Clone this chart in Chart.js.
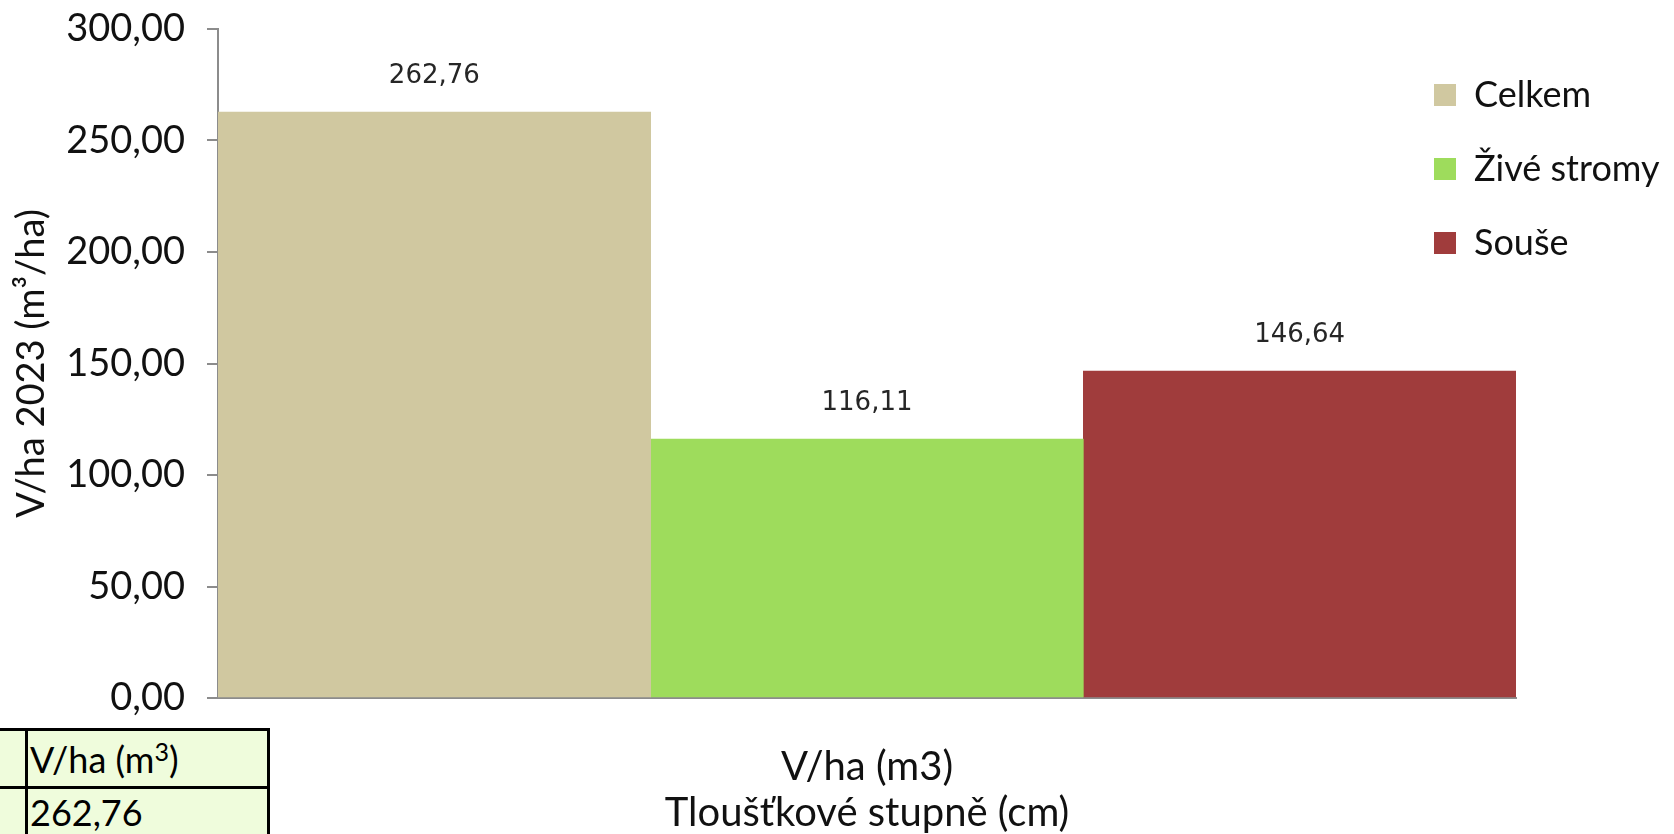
<!DOCTYPE html>
<html>
<head>
<meta charset="utf-8">
<script src="https://cdn.jsdelivr.net/npm/chart.js@4/dist/chart.umd.min.js"></script>
<style>
  html, body { margin: 0; padding: 0; background: #fff; overflow: hidden; }
  #wrap { position: relative; width: 1674px; height: 834px; }
  #vt {
    position: absolute; left: -40px; top: 728px;
    border-collapse: collapse; background: #effcdc;
    font-family: Lato, sans-serif; font-size: 36px; color: #000;
  }
  #vt td { border: 3px solid #000; padding: 0 0 0 2px; line-height: 1.1; }
  #vt tr.head td { height: 55px; }
  #vt tr.val td { height: 60px; vertical-align: top; padding-top: 4px; }
  #vt sup { font-size: 25px; vertical-align: 12px; }
</style>
</head>
<body>
<div id="wrap">
  <canvas id="volumeChart"></canvas>
  <table id="vt">
    <tr class="head"><td style="width:60px"></td><td style="width:237px">V/ha (m<sup>3</sup>)</td></tr>
    <tr class="val"><td></td><td id="vtValue"></td></tr>
  </table>
</div>
<script>
const categories = ['V/ha (m3)'];
const seriesNames = ['Celkem', 'Živé stromy', 'Souše'];
const celkem = [262.76];
const ziveStromy = [116.11];
const souse = [146.64];
const yTicks = [0, 50, 100, 150, 200, 250, 300];

const fmt = v => v.toFixed(2).replace('.', ',');

document.getElementById('vtValue').textContent = fmt(celkem[0]);

Chart.defaults.font.family = 'Lato, sans-serif';
Chart.defaults.color = '#111';

// value labels above each bar
const barValueLabels = {
  id: 'barValueLabels',
  afterDatasetsDraw(chart) {
    const ctx = chart.ctx;
    ctx.save();
    ctx.font = '26px "DejaVu Sans"';
    ctx.fillStyle = '#262626';
    ctx.textAlign = 'center';
    ctx.textBaseline = 'middle';
    chart.data.datasets.forEach((ds, i) => {
      chart.getDatasetMeta(i).data.forEach((bar, j) => {
        ctx.fillText(fmt(ds.data[j]), bar.x, bar.y - 36);
      });
    });
    ctx.restore();
  }
};

// legend sits inside the plot area, top right
const legendSpot = {
  id: 'legendSpot',
  afterLayout(chart) {
    const lg = chart.legend;
    const w = lg.width, h = lg.height;
    lg.left = 1396; lg.right = lg.left + w;
    lg.top = 39; lg.bottom = lg.top + h;
  }
};

const axisGrey = '#8c8c8c';

new Chart(document.getElementById('volumeChart'), {
  type: 'bar',
  data: {
    labels: categories,
    datasets: [
      { label: seriesNames[0], data: celkem, backgroundColor: '#d0c8a0' },
      { label: seriesNames[1], data: ziveStromy, backgroundColor: '#9edc5c' },
      { label: seriesNames[2], data: souse, backgroundColor: '#a03c3c' }
    ]
  },
  options: {
    responsive: true,
    maintainAspectRatio: false,
    animation: false,
    layout: { padding: { top: 29, right: 158, bottom: 0, left: 0 } },
    datasets: { bar: { categoryPercentage: 1, barPercentage: 1 } },
    plugins: {
      tooltip: { enabled: false },
      legend: {
        position: 'chartArea',
        align: 'start',
        labels: {
          boxWidth: 22,
          boxHeight: 22,
          padding: 38,
          color: '#111',
          font: { size: 36 }
        }
      }
    },
    scales: {
      y: {
        min: 0,
        max: 300,
        afterBuildTicks: axis => { axis.ticks = yTicks.map(v => ({ value: v })); },
        afterFit: axis => { axis.width = 218; axis.paddingTop = 0; axis.paddingBottom = 0; },
        ticks: { padding: 22, font: { size: 38 }, callback: v => fmt(v) },
        grid: { drawOnChartArea: false, drawTicks: true, tickLength: 11, color: axisGrey, lineWidth: 2 },
        border: { color: axisGrey, width: 2 },
        title: {
          display: true,
          text: 'V/ha 2023 (m³/ha)',
          font: { size: 38 },
          padding: { top: 9, bottom: 0 }
        }
      },
      x: {
        afterFit: axis => { axis.height = 136; axis.paddingLeft = 0; axis.paddingRight = 0; },
        ticks: { padding: 37, font: { size: 40 } },
        grid: { display: false },
        border: { display: true, color: axisGrey, width: 2 },
        title: {
          display: true,
          text: 'Tloušťkové stupně (cm)',
          font: { size: 40 },
          padding: { top: 0, bottom: -3 }
        }
      }
    }
  },
  plugins: [barValueLabels, legendSpot]
});
</script>
</body>
</html>
